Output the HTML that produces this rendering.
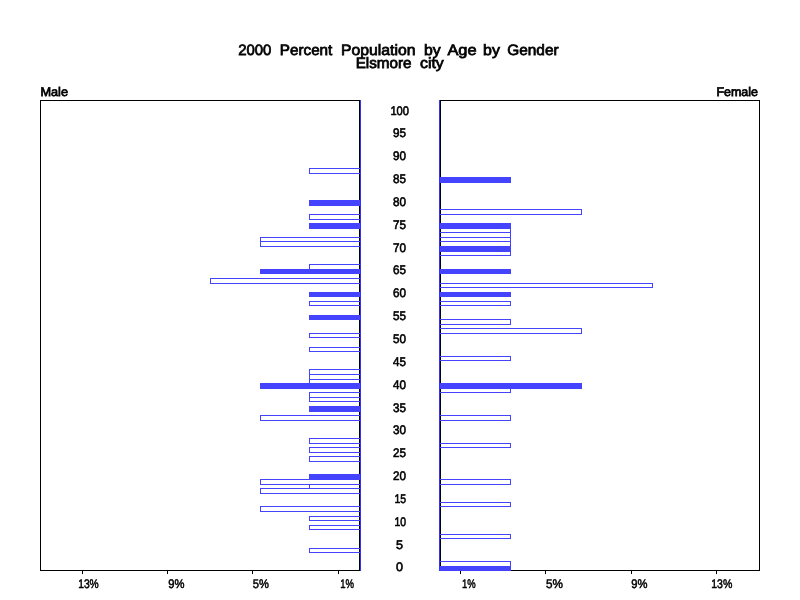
<!DOCTYPE html>
<html><head><meta charset="utf-8"><title>2000 Percent Population by Age by Gender</title>
<style>html,body{margin:0;padding:0;background:#fff}svg{display:block}</style></head>
<body>
<svg width="800" height="600" viewBox="0 0 800 600" shape-rendering="crispEdges">
<rect width="800" height="600" fill="#fff"/>
<g fill="#000">
<rect x="40" y="100" width="320" height="1"/><rect x="40" y="570" width="320" height="1"/><rect x="40" y="100" width="1" height="471"/><rect x="359" y="100" width="1" height="471"/>
<rect x="440" y="100" width="320" height="1"/><rect x="440" y="570" width="320" height="1"/><rect x="440" y="100" width="1" height="471"/><rect x="759" y="100" width="1" height="471"/>
<rect x="82" y="571" width="1" height="3"/>
<rect x="167" y="571" width="1" height="3"/>
<rect x="252" y="571" width="1" height="3"/>
<rect x="338" y="571" width="1" height="3"/>
<rect x="460" y="571" width="1" height="3"/>
<rect x="545" y="571" width="1" height="3"/>
<rect x="631" y="571" width="1" height="3"/>
<rect x="716" y="571" width="1" height="3"/>
</g>
<g id="bars">
<rect x="309.5" y="548.5" width="51" height="4" fill="none" stroke="#4444ff" stroke-width="1"/>
<rect x="309.5" y="525.5" width="51" height="4" fill="none" stroke="#4444ff" stroke-width="1"/>
<rect x="309.5" y="516.5" width="51" height="4" fill="none" stroke="#4444ff" stroke-width="1"/>
<rect x="260.5" y="506.5" width="100" height="5" fill="none" stroke="#4444ff" stroke-width="1"/>
<rect x="260.5" y="488.5" width="100" height="5" fill="none" stroke="#4444ff" stroke-width="1"/>
<rect x="309.5" y="484.5" width="51" height="4" fill="none" stroke="#4444ff" stroke-width="1"/>
<rect x="260.5" y="479.5" width="100" height="5" fill="none" stroke="#4444ff" stroke-width="1"/>
<rect x="309.5" y="456.5" width="51" height="5" fill="none" stroke="#4444ff" stroke-width="1"/>
<rect x="309.5" y="447.5" width="51" height="5" fill="none" stroke="#4444ff" stroke-width="1"/>
<rect x="309.5" y="438.5" width="51" height="5" fill="none" stroke="#4444ff" stroke-width="1"/>
<rect x="260.5" y="415.5" width="100" height="5" fill="none" stroke="#4444ff" stroke-width="1"/>
<rect x="309.5" y="397.5" width="51" height="4" fill="none" stroke="#4444ff" stroke-width="1"/>
<rect x="309.5" y="392.5" width="51" height="5" fill="none" stroke="#4444ff" stroke-width="1"/>
<rect x="309.5" y="379.5" width="51" height="4" fill="none" stroke="#4444ff" stroke-width="1"/>
<rect x="309.5" y="374.5" width="51" height="5" fill="none" stroke="#4444ff" stroke-width="1"/>
<rect x="309.5" y="369.5" width="51" height="5" fill="none" stroke="#4444ff" stroke-width="1"/>
<rect x="309.5" y="347.5" width="51" height="4" fill="none" stroke="#4444ff" stroke-width="1"/>
<rect x="309.5" y="333.5" width="51" height="4" fill="none" stroke="#4444ff" stroke-width="1"/>
<rect x="309.5" y="301.5" width="51" height="4" fill="none" stroke="#4444ff" stroke-width="1"/>
<rect x="210.5" y="278.5" width="150" height="5" fill="none" stroke="#4444ff" stroke-width="1"/>
<rect x="309.5" y="264.5" width="51" height="5" fill="none" stroke="#4444ff" stroke-width="1"/>
<rect x="260.5" y="241.5" width="100" height="5" fill="none" stroke="#4444ff" stroke-width="1"/>
<rect x="260.5" y="237.5" width="100" height="4" fill="none" stroke="#4444ff" stroke-width="1"/>
<rect x="309.5" y="214.5" width="51" height="5" fill="none" stroke="#4444ff" stroke-width="1"/>
<rect x="309.5" y="168.5" width="51" height="5" fill="none" stroke="#4444ff" stroke-width="1"/>
<rect x="309" y="474" width="52" height="6" fill="#4444ff"/>
<rect x="309" y="406" width="52" height="6" fill="#4444ff"/>
<rect x="260" y="383" width="101" height="6" fill="#4444ff"/>
<rect x="309" y="315" width="52" height="5" fill="#4444ff"/>
<rect x="309" y="292" width="52" height="5" fill="#4444ff"/>
<rect x="260" y="269" width="101" height="5" fill="#4444ff"/>
<rect x="309" y="223" width="52" height="6" fill="#4444ff"/>
<rect x="309" y="200" width="52" height="6" fill="#4444ff"/>
<rect x="439.5" y="561.5" width="71" height="5" fill="none" stroke="#4444ff" stroke-width="1"/>
<rect x="439.5" y="534.5" width="71" height="4" fill="none" stroke="#4444ff" stroke-width="1"/>
<rect x="439.5" y="502.5" width="71" height="4" fill="none" stroke="#4444ff" stroke-width="1"/>
<rect x="439.5" y="479.5" width="71" height="5" fill="none" stroke="#4444ff" stroke-width="1"/>
<rect x="439.5" y="443.5" width="71" height="4" fill="none" stroke="#4444ff" stroke-width="1"/>
<rect x="439.5" y="415.5" width="71" height="5" fill="none" stroke="#4444ff" stroke-width="1"/>
<rect x="439.5" y="388.5" width="71" height="4" fill="none" stroke="#4444ff" stroke-width="1"/>
<rect x="439.5" y="356.5" width="71" height="4" fill="none" stroke="#4444ff" stroke-width="1"/>
<rect x="439.5" y="328.5" width="142" height="5" fill="none" stroke="#4444ff" stroke-width="1"/>
<rect x="439.5" y="319.5" width="71" height="5" fill="none" stroke="#4444ff" stroke-width="1"/>
<rect x="439.5" y="301.5" width="71" height="4" fill="none" stroke="#4444ff" stroke-width="1"/>
<rect x="439.5" y="283.5" width="213" height="4" fill="none" stroke="#4444ff" stroke-width="1"/>
<rect x="439.5" y="251.5" width="71" height="4" fill="none" stroke="#4444ff" stroke-width="1"/>
<rect x="439.5" y="241.5" width="71" height="5" fill="none" stroke="#4444ff" stroke-width="1"/>
<rect x="439.5" y="237.5" width="71" height="4" fill="none" stroke="#4444ff" stroke-width="1"/>
<rect x="439.5" y="232.5" width="71" height="5" fill="none" stroke="#4444ff" stroke-width="1"/>
<rect x="439.5" y="228.5" width="71" height="4" fill="none" stroke="#4444ff" stroke-width="1"/>
<rect x="439.5" y="209.5" width="142" height="5" fill="none" stroke="#4444ff" stroke-width="1"/>
<rect x="439" y="566" width="72" height="5" fill="#4444ff"/>
<rect x="439" y="383" width="143" height="6" fill="#4444ff"/>
<rect x="439" y="292" width="72" height="5" fill="#4444ff"/>
<rect x="439" y="269" width="72" height="5" fill="#4444ff"/>
<rect x="439" y="246" width="72" height="6" fill="#4444ff"/>
<rect x="439" y="223" width="72" height="6" fill="#4444ff"/>
<rect x="439" y="177" width="72" height="6" fill="#4444ff"/>
</g>
<rect x="360" y="100" width="1" height="471" fill="#3333ff"/><rect x="439" y="100" width="1" height="471" fill="#3333ff"/>
<g font-family="'Liberation Sans', Arial, sans-serif" fill="#000" stroke="#000" shape-rendering="auto" text-rendering="geometricPrecision">
<text y="54.7" font-size="15" stroke-width="0.75"><tspan x="238.15" textLength="33.27" lengthAdjust="spacingAndGlyphs">2000</tspan> <tspan x="279.84" textLength="52.48" lengthAdjust="spacingAndGlyphs">Percent</tspan> <tspan x="341.00" textLength="74.54" lengthAdjust="spacingAndGlyphs">Population</tspan> <tspan x="424.00" textLength="16.66" lengthAdjust="spacingAndGlyphs">by</tspan> <tspan x="447.42" textLength="29.23" lengthAdjust="spacingAndGlyphs">Age</tspan> <tspan x="483.11" textLength="16.80" lengthAdjust="spacingAndGlyphs">by</tspan> <tspan x="507.25" textLength="51.33" lengthAdjust="spacingAndGlyphs">Gender</tspan></text>
<text y="68.4" font-size="15" stroke-width="0.75"><tspan x="355.69" textLength="55.89" lengthAdjust="spacingAndGlyphs">Elsmore</tspan> <tspan x="420.00" textLength="23.68" lengthAdjust="spacingAndGlyphs">city</tspan></text>
<text x="40.41" y="96" font-size="12.5" stroke-width="0.75" textLength="27.59" lengthAdjust="spacingAndGlyphs">Male</text>
<text x="716.41" y="96" font-size="12.5" stroke-width="0.75" textLength="41.59" lengthAdjust="spacingAndGlyphs">Female</text>
<text x="396.00" y="570.9" font-size="12.5" stroke-width="0.6" textLength="7.00" lengthAdjust="spacingAndGlyphs">0</text>
<text x="396.00" y="548.9" font-size="12.5" stroke-width="0.6" textLength="7.00" lengthAdjust="spacingAndGlyphs">5</text>
<text x="394.39" y="525.9" font-size="12.5" stroke-width="0.6" textLength="11.61" lengthAdjust="spacingAndGlyphs">10</text>
<text x="394.39" y="502.9" font-size="12.5" stroke-width="0.6" textLength="11.61" lengthAdjust="spacingAndGlyphs">15</text>
<text x="393.00" y="479.9" font-size="12.5" stroke-width="0.6" textLength="13.00" lengthAdjust="spacingAndGlyphs">20</text>
<text x="393.00" y="456.9" font-size="12.5" stroke-width="0.6" textLength="13.00" lengthAdjust="spacingAndGlyphs">25</text>
<text x="393.00" y="433.9" font-size="12.5" stroke-width="0.6" textLength="13.00" lengthAdjust="spacingAndGlyphs">30</text>
<text x="393.00" y="411.9" font-size="12.5" stroke-width="0.6" textLength="13.00" lengthAdjust="spacingAndGlyphs">35</text>
<text x="393.06" y="388.9" font-size="12.5" stroke-width="0.6" textLength="12.94" lengthAdjust="spacingAndGlyphs">40</text>
<text x="393.06" y="365.9" font-size="12.5" stroke-width="0.6" textLength="12.94" lengthAdjust="spacingAndGlyphs">45</text>
<text x="393.00" y="342.9" font-size="12.5" stroke-width="0.6" textLength="13.00" lengthAdjust="spacingAndGlyphs">50</text>
<text x="393.00" y="319.9" font-size="12.5" stroke-width="0.6" textLength="13.00" lengthAdjust="spacingAndGlyphs">55</text>
<text x="393.00" y="296.9" font-size="12.5" stroke-width="0.6" textLength="13.00" lengthAdjust="spacingAndGlyphs">60</text>
<text x="393.00" y="273.9" font-size="12.5" stroke-width="0.6" textLength="13.00" lengthAdjust="spacingAndGlyphs">65</text>
<text x="393.00" y="251.9" font-size="12.5" stroke-width="0.6" textLength="13.00" lengthAdjust="spacingAndGlyphs">70</text>
<text x="393.00" y="228.9" font-size="12.5" stroke-width="0.6" textLength="13.00" lengthAdjust="spacingAndGlyphs">75</text>
<text x="393.00" y="205.9" font-size="12.5" stroke-width="0.6" textLength="13.00" lengthAdjust="spacingAndGlyphs">80</text>
<text x="393.00" y="182.9" font-size="12.5" stroke-width="0.6" textLength="13.00" lengthAdjust="spacingAndGlyphs">85</text>
<text x="393.00" y="159.9" font-size="12.5" stroke-width="0.6" textLength="13.00" lengthAdjust="spacingAndGlyphs">90</text>
<text x="393.00" y="136.9" font-size="12.5" stroke-width="0.6" textLength="13.00" lengthAdjust="spacingAndGlyphs">95</text>
<text x="390.41" y="114.9" font-size="12.5" stroke-width="0.6" textLength="18.59" lengthAdjust="spacingAndGlyphs">100</text>
<text x="78.18" y="588.4" font-size="12.5" stroke-width="0.5" textLength="20.60" lengthAdjust="spacingAndGlyphs">13%</text>
<text x="168.16" y="588.4" font-size="12.5" stroke-width="0.5" textLength="16.22" lengthAdjust="spacingAndGlyphs">9%</text>
<text x="252.69" y="588.4" font-size="12.5" stroke-width="0.5" textLength="16.11" lengthAdjust="spacingAndGlyphs">5%</text>
<text x="340.22" y="588.4" font-size="12.5" stroke-width="0.5" textLength="13.78" lengthAdjust="spacingAndGlyphs">1%</text>
<text x="462.06" y="588.4" font-size="12.5" stroke-width="0.5" textLength="13.67" lengthAdjust="spacingAndGlyphs">1%</text>
<text x="546.03" y="588.4" font-size="12.5" stroke-width="0.5" textLength="16.97" lengthAdjust="spacingAndGlyphs">5%</text>
<text x="631.16" y="588.4" font-size="12.5" stroke-width="0.5" textLength="16.22" lengthAdjust="spacingAndGlyphs">9%</text>
<text x="711.22" y="588.4" font-size="12.5" stroke-width="0.5" textLength="21.06" lengthAdjust="spacingAndGlyphs">13%</text>
</g>
</svg>
</body></html>
